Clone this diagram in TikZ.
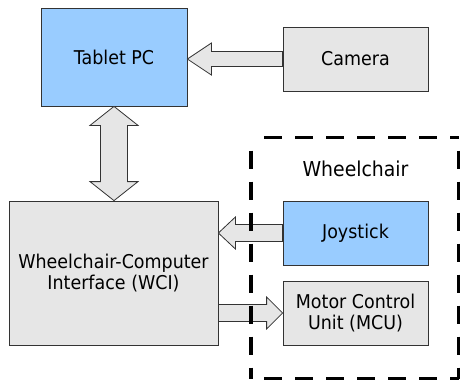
\documentclass[tikz,border=0pt]{standalone}
\usepackage{fontspec}
\setmainfont{DejaVu Sans}[FakeStretch=0.92]
\usetikzlibrary{calc}
\definecolor{boxblue}{HTML}{99CCFF}
\definecolor{boxgray}{HTML}{E6E6E6}
\definecolor{edge}{HTML}{333333}
\tikzset{
  unit/.style={draw=edge, line width=0.8pt, align=center, inner sep=0pt,
    font=\fontsize{19}{20.5}\selectfont},
  bluebox/.style={unit, fill=boxblue},
  graybox/.style={unit, fill=boxgray},
  blk/.style={draw=edge, fill=boxgray, line width=0.8pt, line join=miter},
  groupline/.style={line width=3.6pt, dash pattern=on 18pt off 13pt}
}
\begin{document}
\begin{tikzpicture}[x=1pt, y=-1pt]
\useasboundingbox (0,0) rectangle (460,381);

% units
\node[bluebox, minimum width=146pt, minimum height=98pt] (tab) at (114,57) {Tablet PC};
\node[graybox, minimum width=145pt, minimum height=64pt] (cam) at (355.5,59) {Camera};
\node[bluebox, minimum width=145pt, minimum height=64pt] (joy) at (355.5,233) {Joystick};
\node[graybox, minimum width=145pt, minimum height=64pt] (mcu) at (355.5,313) {Motor Control\\Unit (MCU)};
\node[graybox, minimum width=209pt, minimum height=144pt] (wci) at (113.5,273) {Wheelchair-Computer\\Interface (WCI)};

% camera -> tablet
\draw[blk] let \p1=(cam.west), \p2=(tab.east) in
  (\x1,\y1+7.5pt) -- (\x2+24pt,\y1+7.5pt) -- (\x2+24pt,\y1+16pt) -- (\x2,\y1)
  -- (\x2+24pt,\y1-16pt) -- (\x2+24pt,\y1-7.5pt) -- (\x1,\y1-7.5pt) -- cycle;

% tablet <-> interface
\draw[blk] let \p1=(tab.south), \p2=(wci.north) in
  (\x1,\y1) -- (\x1+24pt,\y1-19pt) -- (\x1+13.5pt,\y1-19pt) -- (\x1+13.5pt,\y2+19pt)
  -- (\x1+24pt,\y2+19pt) -- (\x1,\y2) -- (\x1-24pt,\y2+19pt) -- (\x1-13.5pt,\y2+19pt)
  -- (\x1-13.5pt,\y1-19pt) -- (\x1-24pt,\y1-19pt) -- cycle;

% joystick -> interface
\draw[blk] let \p1=(joy.west), \p2=(wci.east) in
  (\x1,\y1+8.5pt) -- (\x2+17pt,\y1+8.5pt) -- (\x2+17pt,\y1+16pt) -- (\x2,\y1)
  -- (\x2+17pt,\y1-16pt) -- (\x2+17pt,\y1-8.5pt) -- (\x1,\y1-8.5pt) -- cycle;

% interface -> motor control unit
\draw[blk] let \p1=(wci.east), \p2=(mcu.west) in
  (\x1,\y2+8.5pt) -- (\x2-16pt,\y2+8.5pt) -- (\x2-16pt,\y2+16pt) -- (\x2,\y2)
  -- (\x2-16pt,\y2-16pt) -- (\x2-16pt,\y2-8.5pt) -- (\x1,\y2-8.5pt) -- cycle;

% wheelchair group
\coordinate (gtl) at (251,137.5);
\coordinate (gbr) at (458.5,378.5);
\draw[groupline, dash phase=-13pt] (gtl) -- (gtl |- gbr);
\draw[groupline, dash phase=-13pt] (gtl |- gbr) -- (gbr);
\draw[groupline, dash phase=-13pt] (gtl) -- (gtl -| gbr);
\draw[groupline, dash phase=-13pt] (gtl -| gbr) -- (gbr);
\node[font=\fontsize{20.5}{22}\selectfont] (wlabel) at (355.5,169) {Wheelchair};
\end{tikzpicture}
\end{document}
